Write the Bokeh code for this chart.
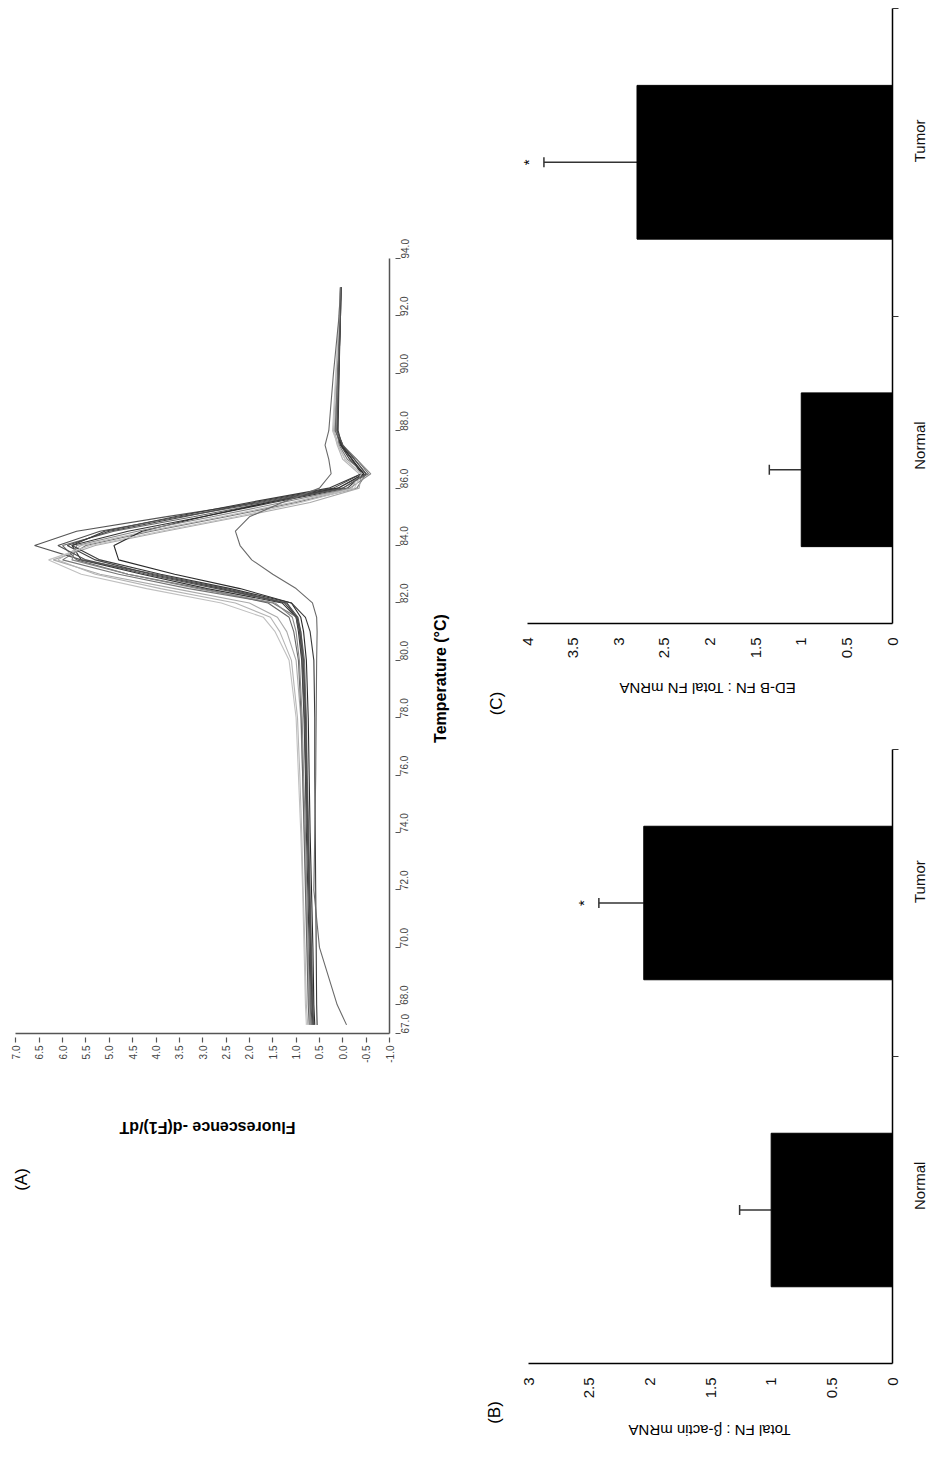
from math import pi
import pandas as pd
from bokeh.plotting import figure
from bokeh.layouts import row, column
from bokeh.models import (Range1d, FixedTicker, CustomJSTickFormatter, LabelSet,
                          Whisker, TeeHead, ColumnDataSource)
from bokeh.embed import file_html
from bokeh.resources import INLINE
from bokeh.core.properties import value

FONT = "Liberation Sans"

# ---------------- Panel A data (melting curves) ----------------
melt_temp = [67.3, 68, 70, 72, 74, 76, 78, 80, 81, 81.5, 82, 82.5, 83, 83.5,
             84, 84.5, 85, 85.5, 86, 86.5, 87, 87.5, 88, 90, 92, 93]
melt_01 = [0.68, 0.70, 0.72, 0.75, 0.78, 0.80, 0.83, 0.88, 0.95, 1.00, 1.30, 2.90, 4.30, 5.60,
           5.80, 4.60, 3.00, 1.50, -0.10, -0.45, -0.15, 0.05, 0.15, 0.10, 0.05, 0.04]
melt_02 = [0.62, 0.64, 0.67, 0.70, 0.73, 0.76, 0.78, 0.82, 0.90, 0.98, 1.50, 3.30, 4.80, 6.00,
           5.50, 4.10, 2.50, 1.00, -0.30, -0.50, -0.10, 0.08, 0.12, 0.08, 0.06, 0.04]
melt_03 = [0.70, 0.73, 0.76, 0.79, 0.82, 0.86, 0.90, 1.00, 1.20, 1.40, 2.00, 3.60, 5.20, 6.20,
           5.30, 3.80, 2.20, 0.70, -0.35, -0.40, -0.05, 0.10, 0.18, 0.12, 0.07, 0.05]
melt_04 = [0.66, 0.68, 0.70, 0.73, 0.76, 0.79, 0.82, 0.87, 0.93, 1.00, 1.20, 2.50, 4.00, 5.60,
           6.60, 5.70, 3.80, 1.80, 0.10, -0.50, -0.25, 0.00, 0.14, 0.10, 0.06, 0.04]
melt_05 = [0.72, 0.74, 0.77, 0.80, 0.83, 0.86, 0.89, 0.95, 1.05, 1.15, 1.60, 3.00, 4.60, 5.70,
           6.00, 4.90, 3.20, 1.60, 0.00, -0.55, -0.30, 0.02, 0.16, 0.11, 0.06, 0.05]
melt_06 = [0.64, 0.66, 0.69, 0.72, 0.75, 0.78, 0.80, 0.85, 0.92, 0.98, 1.25, 2.60, 4.10, 5.30,
           5.90, 5.00, 3.40, 1.90, 0.20, -0.40, -0.20, 0.05, 0.12, 0.10, 0.06, 0.04]
melt_07 = [0.75, 0.78, 0.81, 0.85, 0.88, 0.92, 0.97, 1.10, 1.35, 1.55, 2.30, 3.90, 5.30, 6.10,
           5.60, 4.20, 2.60, 1.10, -0.20, -0.35, 0.00, 0.12, 0.20, 0.14, 0.08, 0.05]
melt_08 = [0.60, 0.62, 0.64, 0.67, 0.70, 0.72, 0.74, 0.78, 0.84, 0.90, 1.10, 2.20, 3.60, 4.80,
           4.90, 4.30, 3.00, 1.60, 0.10, -0.45, -0.20, 0.03, 0.12, 0.09, 0.05, 0.04]
melt_09 = [0.68, 0.71, 0.74, 0.77, 0.80, 0.84, 0.87, 0.93, 1.00, 1.08, 1.45, 3.10, 4.60, 5.80,
           5.70, 4.40, 2.80, 1.30, -0.15, -0.60, -0.30, 0.00, 0.14, 0.10, 0.06, 0.04]
melt_10 = [0.55, 0.56, 0.57, 0.58, 0.59, 0.60, 0.60, 0.62, 0.70, 0.80, 1.10, 2.40, 3.90, 5.20,
           5.80, 5.10, 3.60, 2.00, 0.30, -0.40, -0.20, 0.02, 0.10, 0.08, 0.05, 0.04]
melt_11 = [0.78, 0.80, 0.83, 0.86, 0.90, 0.95, 1.00, 1.15, 1.45, 1.70, 2.60, 4.20, 5.60, 6.30,
           5.40, 3.90, 2.30, 0.90, -0.25, -0.40, -0.05, 0.10, 0.22, 0.15, 0.08, 0.05]
melt_12 = [0.63, 0.65, 0.68, 0.71, 0.74, 0.77, 0.79, 0.84, 0.90, 0.96, 1.20, 2.70, 4.20, 5.50,
           6.10, 5.20, 3.50, 1.70, 0.00, -0.50, -0.25, 0.00, 0.12, 0.09, 0.05, 0.04]
melt_13 = [-0.08, 0.12, 0.50, 0.62, 0.60, 0.58, 0.57, 0.56, 0.55, 0.56, 0.65, 1.00, 1.50, 1.95,
           2.20, 2.30, 2.00, 1.30, 0.50, 0.25, 0.30, 0.38, 0.30, 0.20, 0.08, 0.05]
melt_curves = [melt_01, melt_02, melt_03, melt_04, melt_05, melt_06, melt_07,
               melt_08, melt_09, melt_10, melt_11, melt_12, melt_13]
melt_colors = ["#333333", "#777777", "#aaaaaa", "#555555", "#666666", "#444444", "#b5b5b5",
               "#2a2a2a", "#888888", "#3a3a3a", "#c0c0c0", "#505050", "#6a6a6a"]

fluor_ticks = [-1.0, -0.5, 0.0, 0.5, 1.0, 1.5, 2.0, 2.5, 3.0, 3.5, 4.0, 4.5, 5.0, 5.5, 6.0, 6.5, 7.0]
temp_ticks = [67, 68, 70, 72, 74, 76, 78, 80, 82, 84, 86, 88, 90, 92, 94]

# ---------------- Panels B and C data ----------------
categories = ["Normal", "Tumor"]
total_fn = [1.0, 2.05]
total_fn_err = [0.26, 0.37]
edb_fn = [1.0, 2.80]
edb_fn_err = [0.35, 1.02]
significance = ["", "*"]
b_ticks = [0, 0.5, 1, 1.5, 2, 2.5, 3]
c_ticks = [0, 0.5, 1, 1.5, 2, 2.5, 3, 3.5, 4]

# page geometry (pixels); the canvas of the first figure starts at the page origin
ORIGIN = 0
SPLIT_X = 454      # boundary between panel A and the bar panels
SPLIT_Y = 743      # boundary between panels C and B
PAGE_W, PAGE_H = 927, 1459


# ---------------- layout helpers (page pixel -> data mapping) ----------------
class Map:
    """Linear mapping between page pixels and data values along one direction."""
    def __init__(self, v1, p1, v2, p2):
        self.k = (v2 - v1) / (p2 - p1)
        self.v1, self.p1 = v1, p1

    def __call__(self, p):
        return self.v1 + (p - self.p1) * self.k


def text_at(p, xs, ys, labels, angle, size, bold=False):
    p.text(x=xs, y=ys, text=labels, angle=angle, text_align="center", text_baseline="middle",
           text_font=value(FONT), text_font_size=size,
           text_font_style="bold" if bold else "normal", text_color="black")


def style_axis(ax, color, size, label_color):
    ax.axis_line_color = color
    ax.axis_line_width = 1.5
    ax.major_label_orientation = pi / 2
    ax.major_label_text_font = FONT
    ax.major_label_text_font_size = size
    ax.major_label_text_color = label_color


# ---------------- Panel A ----------------
ax_map = Map(7.0, 15.4, -1.0, 389.0)
ay_map = Map(67.0, 1033.0, 94.0, 258.0)
pa = figure(width=SPLIT_X - ORIGIN, height=PAGE_H - ORIGIN,
            x_range=Range1d(ax_map(ORIGIN), ax_map(SPLIT_X)),
            y_range=Range1d(ay_map(PAGE_H), ay_map(ORIGIN)),
            output_backend="svg", toolbar_location=None,
            x_axis_location="below", y_axis_location="right", min_border=0)
pa.outline_line_color = None
pa.grid.visible = False
for vals, col in zip(melt_curves, melt_colors):
    pa.line(vals, melt_temp, line_color=col, line_width=1.1)

xa = pa.xaxis[0]
xa.fixed_location = temp_ticks[0]
xa.bounds = (fluor_ticks[0], fluor_ticks[-1])
xa.ticker = FixedTicker(ticks=fluor_ticks)
xa.formatter = CustomJSTickFormatter(code="return tick.toFixed(1)")
ya = pa.yaxis[0]
ya.fixed_location = fluor_ticks[0]
ya.bounds = (temp_ticks[0], temp_ticks[-1])
ya.ticker = FixedTicker(ticks=temp_ticks)
ya.formatter = CustomJSTickFormatter(code="return tick.toFixed(1)")
for ax in (xa, ya):
    style_axis(ax, "#555555", "10px", "#444444")
    ax.major_tick_line_color = "#555555"
    ax.major_tick_line_width = 1.2
    ax.minor_tick_line_color = None
xa.major_tick_in = -4
xa.major_tick_out = 9
xa.major_label_standoff = 3
ya.major_tick_in = -6
ya.major_tick_out = 11
ya.major_label_standoff = 4

text_at(pa, [ax_map(207)], [ay_map(1127)], ["Fluorescence -d(F1)/dT"], pi, "16px", bold=True)
text_at(pa, [ax_map(440)], [ay_map(678)], ["Temperature (°C)"], pi / 2, "16px", bold=True)
text_at(pa, [ax_map(21)], [ay_map(1179)], ["(A)"], pi / 2, "17px")


# ---------------- Bar panels ----------------
def bar_panel(vals, errs, ticks, top, bottom, v_map, c_map, ylabel, ylabel_px, letter, letter_px):
    left, right = SPLIT_X, PAGE_W
    src = ColumnDataSource(pd.DataFrame({
        "cat": categories,
        "pos": [i + 0.5 for i in range(len(categories))],
        "val": vals,
        "hi": [v + e for v, e in zip(vals, errs)],
        "star": significance,
    }))
    vmax = ticks[-1]
    p = figure(width=right - left, height=bottom - top,
               x_range=Range1d(v_map(left), v_map(right)),
               y_range=Range1d(c_map(bottom), c_map(top)),
               output_backend="svg", toolbar_location=None,
               x_axis_location="below", y_axis_location="right", min_border=0)
    p.outline_line_color = None
    p.grid.visible = False
    p.hbar(y="pos", left=0, right="val", height=0.5, fill_color="black", line_color="black", source=src)
    p.add_layout(Whisker(source=src, base="pos", lower="val", upper="hi", dimension="width",
                         line_color="#333333", line_width=1.5,
                         upper_head=TeeHead(size=10, line_color="#333333", line_width=1.5),
                         lower_head=None))
    p.add_layout(LabelSet(source=src, x="hi", y="pos", text="star", x_offset=-15, angle=pi / 2,
                          text_align="center", text_baseline="middle", text_font=value(FONT),
                          text_font_size="15px", text_color="black"))
    xax = p.xaxis[0]
    xax.fixed_location = 0
    xax.bounds = (0, vmax)
    xax.ticker = FixedTicker(ticks=ticks)
    xax.formatter = CustomJSTickFormatter(code="return String(tick)")
    xax.major_tick_out = 0
    xax.major_tick_in = 0
    xax.minor_tick_line_color = None
    xax.major_label_standoff = 14
    yax = p.yaxis[0]
    yax.fixed_location = 0
    yax.bounds = (0, len(categories))
    yax.ticker = FixedTicker(ticks=[i + 0.5 for i in range(len(categories))],
                             minor_ticks=[float(i) for i in range(1, len(categories) + 1)])
    yax.formatter = CustomJSTickFormatter(args=dict(cats=categories),
                                          code="return cats[Math.floor(tick)]")
    yax.major_tick_line_color = None
    yax.major_tick_out = 0
    yax.major_tick_in = 0
    yax.minor_tick_in = 0
    yax.minor_tick_out = 6
    yax.minor_tick_line_color = "#333333"
    yax.major_label_standoff = 21
    for ax in (xax, yax):
        style_axis(ax, "black", "15px", "#111111")
    text_at(p, [v_map(ylabel_px[0])], [c_map(ylabel_px[1])], [ylabel], pi, "15px")
    text_at(p, [v_map(letter_px[0])], [c_map(letter_px[1])], [letter], pi / 2, "17px")
    return p


pc = bar_panel(edb_fn, edb_fn_err, c_ticks, ORIGIN, SPLIT_Y,
               Map(4.0, 527.0, 0.0, 892.0), Map(0.0, 623.0, 2.0, 8.0),
               "ED-B FN : Total FN mRNA", (707, 688), "(C)", (496, 703))
pb = bar_panel(total_fn, total_fn_err, b_ticks, SPLIT_Y, PAGE_H,
               Map(3.0, 528.0, 0.0, 892.0), Map(0.0, 1363.0, 2.0, 749.0),
               "Total FN : β-actin mRNA", (709, 1430), "(B)", (494, 1412))

layout = row(pa, column(pc, pb))
open("out.html", "w").write(file_html(layout, INLINE))
